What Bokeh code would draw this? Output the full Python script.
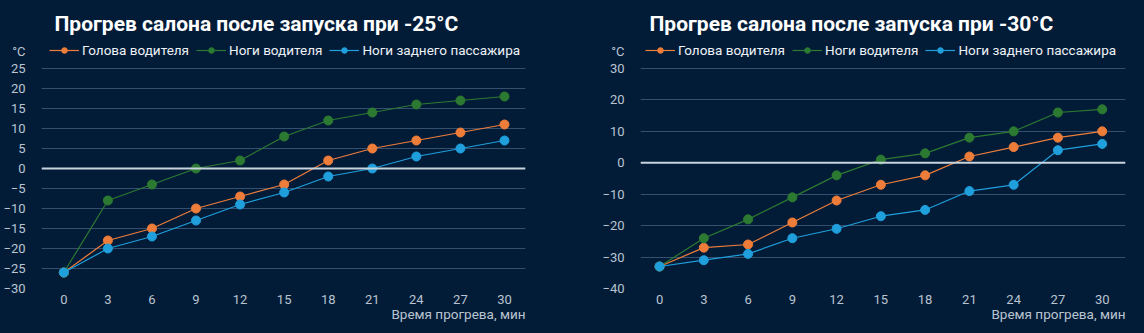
from bokeh.plotting import figure
from bokeh.models import (Legend, LegendItem, Label, Span, FixedTicker,
                          ColumnDataSource, Title, Range1d)
from bokeh.layouts import row
from bokeh.embed import file_html
from bokeh.resources import INLINE

# ---------------- data ----------------
minutes = [0, 3, 6, 9, 12, 15, 18, 21, 24, 27, 30]
series_names = ["Голова водителя", "Ноги водителя", "Ноги заднего пассажира"]

head_25 = [-26, -18, -15, -10, -7, -4, 2, 5, 7, 9, 11]
legs_25 = [-26, -8, -4, 0, 2, 8, 12, 14, 16, 17, 18]
rear_25 = [-26, -20, -17, -13, -9, -6, -2, 0, 3, 5, 7]

head_30 = [-33, -27, -26, -19, -12, -7, -4, 2, 5, 8, 10]
legs_30 = [-33, -24, -18, -11, -4, 1, 3, 8, 10, 16, 17]
rear_30 = [-33, -31, -29, -24, -21, -17, -15, -9, -7, 4, 6]

title_25 = "Прогрев салона после запуска при -25°C"
title_30 = "Прогрев салона после запуска при -30°C"
x_title = "Время прогрева, мин"
y_unit = "°C"
y_ticks_25 = [-30, -25, -20, -15, -10, -5, 0, 5, 10, 15, 20, 25]
y_ticks_30 = [-40, -30, -20, -10, 0, 10, 20, 30]

# ---------------- style / layout ----------------
BG = "#021c38"
GRID = "#34506e"
ZERO = "#c9d3dd"
TICK = "#b9c4d0"
COLORS = ["#ee7d3a", "#2c7a31", "#1f9fdc"]
FONT = "Roboto"
W, H = 572, 333
GRID_TOP_PX = 68      # pixel row of the top gridline
BOTTOM = 45           # space below the plotting area
FRAME_H = H - BOTTOM  # frame reaches the top of the canvas
TITLE_PX = 23         # title centre, from the top
LEGEND_PX = 51        # legend row centre, from the top


def chart(title, values, y_ticks, x_range, border_l, border_r,
          title_dx, legend_dx):
    lo, hi = y_ticks[0], y_ticks[-1]
    ppu = (FRAME_H - GRID_TOP_PX) / (hi - lo)
    top = hi + GRID_TOP_PX / ppu
    unit_tick = round(hi + (GRID_TOP_PX - LEGEND_PX) / ppu, 2)

    p = figure(width=W, height=H, x_range=x_range, y_range=Range1d(lo, top),
               min_border_left=border_l, min_border_right=border_r,
               min_border_top=0, min_border_bottom=BOTTOM,
               background_fill_color=BG, border_fill_color=BG,
               outline_line_color=None, title_location=None,
               output_backend="svg", toolbar_location=None)
    p.ygrid.ticker = FixedTicker(ticks=y_ticks)
    p.ygrid.grid_line_color = GRID
    p.ygrid.grid_line_width = 1
    p.xgrid.grid_line_color = None
    p.yaxis.ticker = FixedTicker(ticks=y_ticks + [unit_tick])
    p.yaxis.major_label_overrides = {unit_tick: y_unit}
    p.xaxis.ticker = FixedTicker(ticks=minutes)
    for ax in (p.xaxis, p.yaxis):
        ax.axis_line_color = None
        ax.major_tick_line_color = None
        ax.minor_tick_line_color = None
        ax.major_label_text_color = TICK
        ax.major_label_text_font = FONT
        ax.major_label_text_font_size = "13px"
    p.yaxis.major_label_standoff = 10
    p.xaxis.major_label_standoff = 0

    p.add_layout(Span(location=0, dimension="width", line_color=ZERO,
                      line_width=2))

    items = []
    for name, vals, col in zip(series_names, values, COLORS):
        src = ColumnDataSource(dict(x=minutes, y=vals))
        lr = p.line("x", "y", source=src, line_color=col, line_width=1.2)
        sr = p.scatter("x", "y", source=src, size=9, fill_color=col,
                       line_color=col)
        items.append(LegendItem(label=name, renderers=[lr, sr]))

    legend = Legend(items=items, orientation="horizontal",
                    location=(legend_dx, FRAME_H - LEGEND_PX - 7),
                    background_fill_alpha=0, border_line_color=None,
                    label_text_color="#eef2f6", label_text_font=FONT,
                    label_text_font_size="13.5px", glyph_width=30,
                    glyph_height=14, label_standoff=3, spacing=7,
                    padding=0, margin=0)
    p.add_layout(legend, "center")

    p.add_layout(Label(x=title_dx, y=FRAME_H - TITLE_PX, x_units="screen",
                       y_units="screen", text=title, text_font=FONT,
                       text_font_size="21px", text_font_style="bold",
                       text_color="white", text_baseline="middle"))

    p.add_layout(Title(text=x_title, align="right", text_font=FONT,
                       text_font_size="13.5px", text_font_style="normal",
                       text_color=TICK, standoff=-5, offset=0), "below")
    return p


p1 = chart(title_25, [head_25, legs_25, rear_25], y_ticks_25,
           (-1.52, 31.43), 40, 47, 13, 8)
p2 = chart(title_30, [head_30, legs_30, rear_30], y_ticks_30,
           (-1.29, 31.58), 68, 19, 9, 5)

layout = row(p1, p2, spacing=0, styles={"background-color": BG})
html = file_html(layout, INLINE)
html = html.replace("</head>",
                    "<style>html,body{margin:0;padding:0;background:%s;}"
                    "</style></head>" % BG, 1)
open("out.html", "w").write(html)
